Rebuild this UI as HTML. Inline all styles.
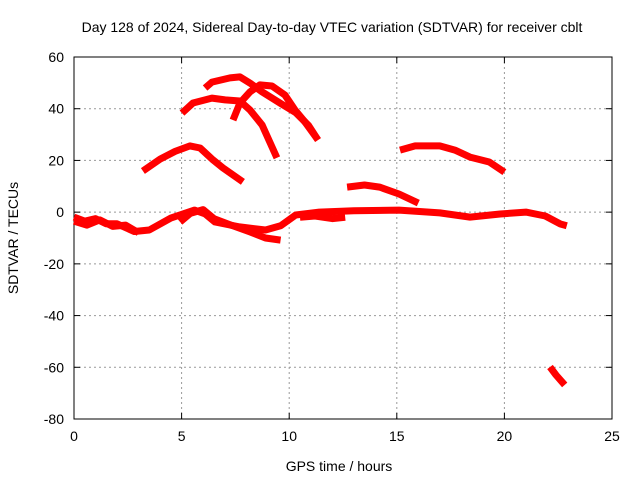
<!DOCTYPE html>
<html><head><meta charset="utf-8"><style>
body{margin:0;background:#fff}
svg text{font-family:"Liberation Sans",sans-serif;font-size:14px;fill:#000}
</style></head><body>
<svg width="640" height="480">
<text x="332" y="32" text-anchor="middle">Day 128 of 2024, Sidereal Day-to-day VTEC variation (SDTVAR) for receiver cblt</text>
<g id="grid"></g><g id="axes"></g><g id="series"></g>
<text x="339" y="471" text-anchor="middle">GPS time / hours</text>
<text transform="translate(18,238) rotate(-90)" text-anchor="middle">SDTVAR / TECUs</text>
</svg>
<script>
const xTicks=[0,5,10,15,20,25];
const yTicks=[60,40,20,0,-20,-40,-60,-80];
const trackHours=[
[6.09,6.41,7.25,7.71,8.18,8.74,9.57,10.3,10.9,11.34],
[5.02,5.53,6.09,6.41,7.02,7.71,8.18,8.74,9.43],
[7.39,7.71,8.18,8.64,9.2,9.8,10.27,10.73,11.34],
[3.2,4.0,4.7,5.39,5.86,6.46,6.92,7.85],
[12.69,13.5,14.2,15.1,16.0],
[15.15,15.85,17.0,17.7,18.4,19.3,20.0],
[22.12,22.4,22.8],
[0,0.5,1.0,1.5,2.0,2.8,3.5,4.5,5.6,6.1,6.55,7.7,8.9,9.6,10.3,11.4,13,15.1,17.0,18.4,19.8,21.0,21.9,22.6,22.9],
[4.93,5.4,6.0,6.5,7.3,8.2,8.9,9.6],
[0,0.6,1.2,1.8,2.4,3.0],
[10.5,11.2,12.0,12.6]
];
const trackValues=[
[48.0,50.3,51.9,52.3,49.9,46.5,42.2,38.5,33.5,27.9],
[38.3,42.2,43.4,44.1,43.4,43.0,39.5,33.7,21.0],
[35.6,42.2,46.5,49.2,48.8,45.3,39.5,34.9,27.9],
[15.9,20.5,23.5,25.6,24.8,20.2,17.1,11.7],
[9.7,10.5,9.7,7.0,3.5],
[24.0,25.6,25.6,24.0,21.3,19.4,15.5],
[-59.9,-63,-66.8],
[-1.9,-3.5,-2.5,-4.5,-4.5,-7.5,-6.9,-2.3,0.8,-0.7,-3.8,-5.7,-6.9,-5.3,-1.1,0,0.5,0.8,-0.3,-1.9,-0.7,0,-1.5,-4.6,-5.3],
[-3.8,-0.5,1.0,-2.5,-5.0,-7.7,-10.0,-10.8],
[-3.5,-5.0,-3.0,-5.5,-5.0,-8.0],
[-2.0,-1.5,-2.5,-2.0]
];
const X0=74,X1=612,Y0=57,Y1=419;
const xs=h=>X0+(h-0)/25*(X1-X0);
const ys=v=>Y0+(60-v)/140*(Y1-Y0);
const NS="http://www.w3.org/2000/svg";
const mk=(t,a,p)=>{const e=document.createElementNS(NS,t);for(const k in a)e.setAttribute(k,a[k]);p.appendChild(e);return e;};
const grid=document.getElementById('grid'),axes=document.getElementById('axes'),ser=document.getElementById('series');
xTicks.forEach(t=>{const x=xs(t);
 if(t>0&&t<25){const g=mk('line',{x1:x,x2:x,y1:Y0,y2:Y1,stroke:'#999','stroke-dasharray':'2,3'},grid);
 
 }
 mk('line',{x1:x,x2:x,y1:Y1,y2:Y1-6,stroke:'#000'},axes);mk('line',{x1:x,x2:x,y1:Y0,y2:Y0+6,stroke:'#000'},axes);
 const l=mk('text',{x:x,y:Y1+22,'text-anchor':'middle'},axes);l.textContent=t;
 
 });
yTicks.forEach(t=>{const y=ys(t);
 if(t<60&&t>-80){const g=mk('line',{x1:X0,x2:X1,y1:y,y2:y,stroke:'#999','stroke-dasharray':'2,3'},grid);
 
 }
 mk('line',{x1:X0,x2:X0+6,y1:y,y2:y,stroke:'#000'},axes);mk('line',{x1:X1,x2:X1-6,y1:y,y2:y,stroke:'#000'},axes);
 const l=mk('text',{x:X0-10,y:y+5,'text-anchor':'end'},axes);l.textContent=t;
 
 });
const fr=mk('rect',{x:X0,y:Y0,width:X1-X0,height:Y1-Y0,fill:'none',stroke:'#000'},axes);


trackHours.forEach((hs,i)=>{const pts=hs.map((h,j)=>xs(h).toFixed(1)+','+ys(trackValues[i][j]).toFixed(1)).join(' ');
 const p=mk('polyline',{points:pts,fill:'none',stroke:'#f00','stroke-width':7,'stroke-linejoin':'round'},ser);
 
 });
</script>
</body></html>
